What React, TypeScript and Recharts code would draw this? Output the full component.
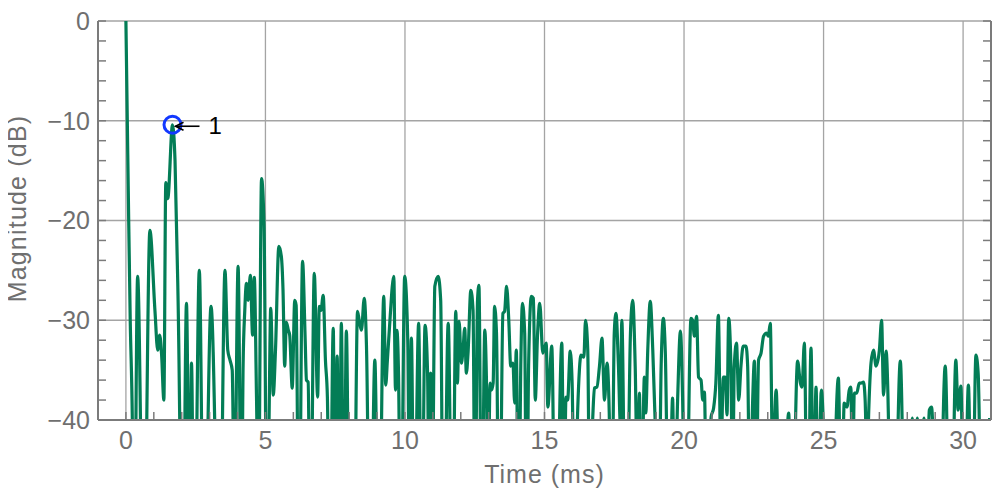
import { LineChart, Line, XAxis, YAxis, CartesianGrid, ReferenceDot } from 'recharts';

// impulse response magnitude (values below -40 dB fall outside the view)
const timeMs = [
  0, 0.05, 0.1, 0.155, 0.23, 0.29, 0.42, 0.64, 0.86, 1.04,
  1.14, 1.21, 1.28, 1.36, 1.43, 1.5, 1.67, 1.76, 1.87, 2.04,
  2.17, 2.28, 2.35, 2.45, 2.63, 2.8, 3.05, 3.36, 3.55, 3.65,
  3.73, 3.81, 3.89, 4.02, 4.14, 4.2, 4.26, 4.32, 4.38, 4.46,
  4.54, 4.6, 4.68, 4.75, 4.86, 4.95, 5.05, 5.12, 5.19, 5.28,
  5.36, 5.48, 5.57, 5.63, 5.69, 5.75, 5.82, 5.87, 5.96, 6.05,
  6.1, 6.2, 6.33, 6.42, 6.47, 6.53, 6.61, 6.75, 6.87, 6.93,
  6.99, 7.07, 7.15, 7.22, 7.31, 7.43, 7.5, 7.57, 7.64, 7.72,
  7.81, 7.9, 8.02, 8.16, 8.3, 8.36, 8.44, 8.54, 8.62, 8.76,
  8.92, 9.06, 9.24, 9.31, 9.37, 9.45, 9.6, 9.66, 9.71, 9.77,
  9.85, 9.99, 10.1, 10.17, 10.23, 10.33, 10.49, 10.6, 10.72, 10.81,
  10.86, 10.92, 10.98, 11.07, 11.19, 11.28, 11.38, 11.55, 11.7, 11.82,
  11.88, 11.94, 12.02, 12.08, 12.14, 12.2, 12.26, 12.36, 12.44, 12.51,
  12.6, 12.65, 12.75, 12.86, 12.92, 12.98, 13.05, 13.1, 13.16, 13.21,
  13.28, 13.38, 13.51, 13.57, 13.64, 13.72, 13.79, 13.87, 13.93, 13.99,
  14.07, 14.15, 14.21, 14.29, 14.36, 14.43, 14.53, 14.6, 14.67, 14.75,
  14.83, 14.94, 15.06, 15.12, 15.26, 15.4, 15.62, 15.7, 15.77, 15.83,
  15.92, 15.99, 16.08, 16.19, 16.31, 16.41, 16.47, 16.55, 16.62, 16.73,
  16.79, 16.88, 16.97, 17.06, 17.15, 17.24, 17.32, 17.4, 17.5, 17.56,
  17.65, 17.72, 17.77, 17.92, 18.08, 18.16, 18.25, 18.34, 18.4, 18.47,
  18.58, 18.63, 18.7, 18.79, 18.88, 18.96, 19.08, 19.18, 19.26, 19.33,
  19.46, 19.59, 19.66, 19.77, 19.87, 19.95, 20.05, 20.25, 20.31, 20.37,
  20.45, 20.52, 20.61, 20.67, 20.73, 20.82, 20.97, 21.06, 21.14, 21.23,
  21.32, 21.41, 21.48, 21.54, 21.6, 21.68, 21.74, 21.8, 21.88, 21.96,
  22.04, 22.12, 22.22, 22.28, 22.36, 22.46, 22.52, 22.59, 22.67, 22.76,
  22.85, 22.96, 23.02, 23.09, 23.18, 23.3, 23.48, 23.75, 23.86, 24.07,
  24.17, 24.23, 24.31, 24.43, 24.55, 24.64, 24.73, 24.81, 24.92, 25.22,
  25.53, 25.64, 25.74, 25.84, 25.92, 25.98, 26.04, 26.1, 26.19, 26.28,
  26.34, 26.43, 26.49, 26.56, 26.62, 26.7, 26.79, 26.88, 27.0, 27.08,
  27.15, 27.24, 27.5, 27.75, 27.95, 28.18, 28.26, 28.36, 28.46, 28.6,
  28.68, 28.79, 28.87, 29.1, 29.36, 29.55, 29.74, 29.82, 29.92, 30.04,
  30.19, 30.32, 30.46, 30.54, 30.7, 30.95,
];

const magnitudeDb = [
  0, -10, -20, -30, -40, -58, -25.6, -58, -21, -29,
  -33, -31.5, -33.5, -38, -16.2, -17.8, -10.4, -14, -28, -58,
  -28.3, -52, -34.3, -58, -25, -58, -28.6, -58, -25, -33,
  -34, -35, -50, -24.6, -52, -34.5, -29, -26.3, -28, -25.5,
  -31.5, -25.7, -37.7, -50, -15.8, -20.5, -52, -42, -28.8, -37.5,
  -33, -22.6, -23.6, -27, -34.6, -30.2, -31, -31.5, -36.8, -28,
  -28.5, -55, -24.1, -31.5, -36, -36.2, -55, -25.3, -37.7, -28.6,
  -29, -27.5, -34, -37.7, -55, -30.8, -55, -33.6, -55, -30.3,
  -55, -31.1, -58, -58, -29.1, -30, -31, -27.8, -32.5, -58,
  -34, -58, -27.6, -36.5, -34, -30.5, -25.6, -37, -31, -35.5,
  -55, -25.6, -32, -52, -31.8, -55, -30.3, -55, -30.5, -35.3,
  -48, -35.3, -48, -26.6, -25.6, -28, -58, -30.3, -58, -29.1,
  -36.3, -30.1, -34.3, -33, -30.8, -35.3, -33.3, -27, -29, -52,
  -28, -26.5, -55, -31, -36, -48, -36.3, -37, -36.3, -28.6,
  -31.3, -58, -29.3, -29.1, -26.6, -30, -34.6, -34.3, -38.3, -33,
  -55, -34.6, -28.3, -31.3, -55, -34.6, -27.6, -27.8, -38, -31.5,
  -28.3, -33.3, -32.3, -38.7, -32.6, -58, -32.3, -50, -37.7, -38,
  -33.1, -36.3, -52, -39, -33.5, -33.7, -30, -33, -50, -39.7,
  -36.8, -36.7, -34.6, -31.8, -38, -34.3, -39.3, -55, -31.3, -29.3,
  -34.6, -40.5, -30, -58, -31.3, -28, -34.6, -48, -37.3, -50,
  -35.7, -39.3, -33, -28.1, -33, -39.7, -55, -34.6, -29.8, -33.3,
  -55, -37.8, -50, -38, -31.1, -38, -58, -29.8, -30, -31.6,
  -29.6, -35.7, -36, -38, -37.2, -52, -39.7, -38.8, -36.3, -29.5,
  -44, -35.7, -35.7, -39.5, -29.8, -34.6, -48, -34.6, -32.3, -38,
  -34.6, -32.6, -32.6, -34.6, -50, -38, -34.1, -48, -34, -33.3,
  -31.6, -31.3, -31.6, -30.3, -45, -37, -60, -39.3, -55, -34.1,
  -36.3, -36.7, -32.3, -55, -32.8, -50, -36.7, -50, -37, -62,
  -35.8, -52, -38.3, -38.7, -37, -36.7, -48, -37.3, -37.3, -36.3,
  -36.3, -36.2, -38, -45, -39, -34.3, -33, -34.6, -33, -30,
  -37.5, -33.1, -60, -34.1, -58, -39.8, -50, -39.8, -50, -39.8,
  -50, -39, -38.7, -62, -34.6, -60, -34, -39, -36.6, -55,
  -36.5, -55, -33.5, -35.3, -58, -39.8,
];

const timeTicks = [
  0, 1, 2, 3, 4, 5, 6, 7, 8, 9, 10, 11, 12, 13, 14, 15,
  16, 17, 18, 19, 20, 21, 22, 23, 24, 25, 26, 27, 28, 29, 30,
];
const timeGrid = [0, 5, 10, 15, 20, 25, 30];
const dbTicks = [-40, -38, -36, -34, -32, -30, -28, -26, -24, -22, -20, -18, -16, -14, -12, -10, -8, -6, -4, -2, 0];
const dbGrid = [-40, -30, -20, -10, 0];

const peakTime = 1.67;
const peakDb = -10.4;
const peakLabel = '1';

const data = timeMs.map((t, i) => ({ t, m: magnitudeDb[i] }));

const FONT = '"Liberation Sans", Arial, Helvetica, sans-serif';
const AXIS_GRAY = '#7b7b7b';
const TEXT_GRAY = '#6f6f6f';
const tickStyle = { fill: TEXT_GRAY, fontSize: 25, fontFamily: FONT };

function fmtTime(v: number) {
  return v % 5 === 0 ? String(v) : '';
}

function fmtDb(v: number) {
  if (v % 10 !== 0) return '';
  return v < 0 ? '\u2212' + Math.abs(v) : String(v);
}

const noLabel = () => '';

function YTitle(props: any) {
  const vb = props.viewBox;
  const x = vb.x + 18;
  const y = vb.y + vb.height / 2 - 12;
  return (
    <text x={x} y={y} transform={`rotate(-90 ${x} ${y})`} textAnchor="middle"
      fill={TEXT_GRAY} fontSize={25} fontFamily={FONT} letterSpacing={1.2}>
      Magnitude (dB)
    </text>
  );
}

function PeakNote(props: any) {
  const vb = props.viewBox;
  const cx = vb.x + vb.width / 2;
  const cy = vb.y + vb.height / 2;
  const ay = cy + 1.5;
  return (
    <g>
      <line x1={cx + 27} y1={ay} x2={cx + 3} y2={ay} stroke="#000" strokeWidth={1.6} />
      <polyline points={`${cx + 11},${ay - 4} ${cx + 3},${ay} ${cx + 11},${ay + 4}`}
        fill="none" stroke="#000" strokeWidth={1.6} />
      <text x={cx + 36} y={cy + 9} fill="#000" fontSize={24} fontFamily={FONT}>{peakLabel}</text>
    </g>
  );
}

export default function App() {
  return (
    <LineChart width={984} height={482} data={data}
      margin={{ top: 13, right: 0, bottom: 0, left: 0 }}>
      <XAxis xAxisId="b" dataKey="t" type="number" domain={[-1, 31]} ticks={timeTicks} interval={0}
        allowDataOverflow height={70} tickSize={-8} tickMargin={19} tickFormatter={fmtTime}
        tick={tickStyle}
        axisLine={{ stroke: AXIS_GRAY, strokeWidth: 2 }} tickLine={{ stroke: AXIS_GRAY, strokeWidth: 1.5 }}
        label={{ value: 'Time (ms)', position: 'insideBottom', offset: 7, fill: TEXT_GRAY, fontSize: 25, fontFamily: FONT, letterSpacing: 1 }} />
      <XAxis xAxisId="t" orientation="top" dataKey="t" type="number" domain={[-1, 31]} ticks={timeTicks}
        interval={0} allowDataOverflow height={0} tickSize={-8} tickFormatter={noLabel} tick={tickStyle}
        axisLine={{ stroke: AXIS_GRAY, strokeWidth: 2 }} tickLine={{ stroke: AXIS_GRAY, strokeWidth: 1.5 }} />

      <YAxis yAxisId="l" type="number" domain={[-40, 0]} ticks={dbTicks} interval={0} allowDataOverflow
        width={90} tickSize={-8} tickMargin={16} tickFormatter={fmtDb} tick={tickStyle}
        axisLine={{ stroke: AXIS_GRAY, strokeWidth: 2 }} tickLine={{ stroke: AXIS_GRAY, strokeWidth: 1.5 }}
        label={{ content: YTitle }} />
      <YAxis yAxisId="r" orientation="right" type="number" domain={[-40, 0]} ticks={dbTicks} interval={0}
        allowDataOverflow width={1} tickSize={-8} tickFormatter={noLabel} tick={tickStyle}
        axisLine={{ stroke: AXIS_GRAY, strokeWidth: 2 }} tickLine={{ stroke: AXIS_GRAY, strokeWidth: 1.5 }} />

      {/* hidden axes that only carry the major grid positions */}
      <XAxis xAxisId="g" dataKey="t" type="number" domain={[-1, 31]} ticks={timeGrid} hide height={0} allowDataOverflow />
      <YAxis yAxisId="g" type="number" domain={[-40, 0]} ticks={dbGrid} hide width={0} allowDataOverflow />
      <CartesianGrid xAxisId="g" yAxisId="g" stroke="#a4a4a4" strokeWidth={1.3} />

      <Line xAxisId="b" yAxisId="l" type="monotone" dataKey="m" stroke="#037d56" strokeWidth={3.2}
        dot={false} isAnimationActive={false} />

      <ReferenceDot xAxisId="b" yAxisId="l" x={peakTime} y={peakDb} r={8.5} fill="none"
        stroke="#1238ff" strokeWidth={3} label={{ content: PeakNote }} />
    </LineChart>
  );
}
